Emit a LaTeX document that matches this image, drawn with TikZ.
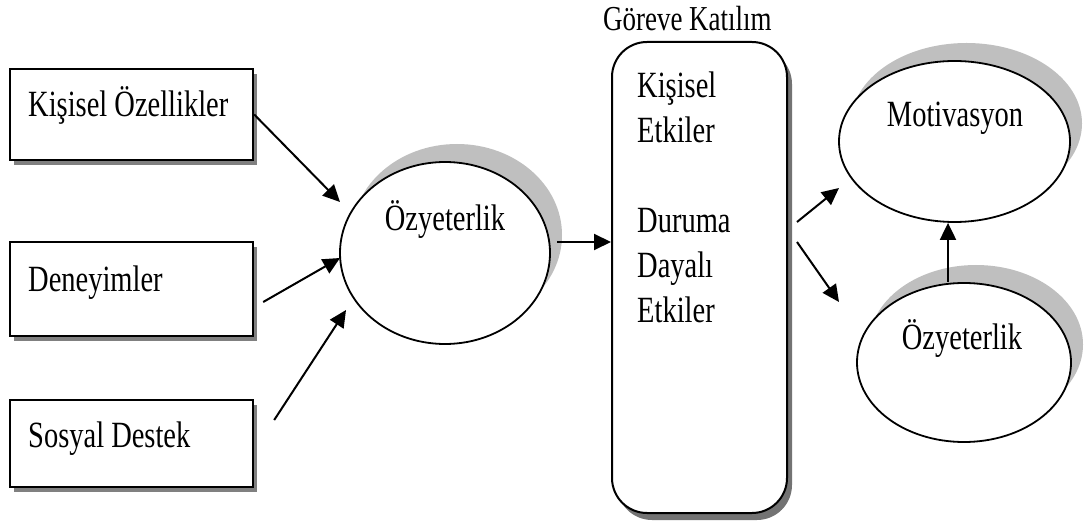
\documentclass[tikz,border=0pt]{standalone}
\usepackage{fontspec}
\setmainfont{Liberation Serif}[FakeStretch=0.77]
\usetikzlibrary{shapes.geometric,arrows.meta,calc,shadows}

\begin{document}
\begin{tikzpicture}[x=1pt,y=-1pt,
  box/.style={draw, line width=2.4pt, fill=white, minimum width=243pt,
    minimum height=91pt, inner sep=0pt,
    drop shadow={shadow xshift=4pt, shadow yshift=-5pt, fill=black!50, opacity=1}},
  oval/.style={ellipse, draw, line width=1.8pt, fill=white, inner sep=0pt,
    general shadow={shadow xshift=12pt, shadow yshift=18pt, fill=black!25, opacity=1}},
  panel/.style={draw, line width=2pt, rounded corners=35pt, fill=white,
    inner sep=0pt,
    drop shadow={shadow xshift=5pt, shadow yshift=-7pt, fill=black!55, opacity=1}},
  txt/.style={inner sep=0pt, font=\fontsize{37}{45}\selectfont},
  arr/.style={line width=2pt, -{Triangle[length=17pt,width=16pt]}}]

\useasboundingbox (0,0) rectangle (1087,526);

% source boxes
\node[box] (k) at (131.5,114.5) {};
\node[box, minimum height=94pt] (d) at (131.5,289) {};
\node[box, minimum height=87pt] (s) at (131.5,443.5) {};
\node[txt, anchor=base west] (kt) at (28,117) {Kişisel Özellikler};
\node[txt, anchor=base west] (dt) at (28,292) {Deneyimler};
\node[txt, anchor=base west] (st) at (28,447) {Sosyal Destek};

% self-efficacy
\node[oval, minimum width=210pt, minimum height=182pt] (e1) at (445,253) {};
\node[txt, anchor=base] (e1t) at (445,231) {Özyeterlik};

% task participation panel
\node[panel, minimum width=175pt, minimum height=471pt] (g) at (699.5,277.5) {};
\node[txt, anchor=base west, font=\fontsize{35}{40}\selectfont] (gt) at (603,31) {Göreve Katılım};
% multi-line node: base anchor sits on the last line
\node[txt, anchor=base west, align=left] (gc) at (637,323)
  {Kişisel\\Etkiler\\[45pt]Duruma\\Dayalı\\Etkiler};

% outcomes
\node[oval, minimum width=231pt, minimum height=161pt] (m) at (954.5,141.5) {};
\node[txt, anchor=base] (mt) at (955,127) {Motivasyon};
\node[oval, minimum width=214pt, minimum height=159pt] (o2) at (964,362.5) {};
\node[txt, anchor=base] (o2t) at (962,350) {Özyeterlik};

% connectors
\coordinate (t1) at (340,202);
\coordinate (t2) at (340,258);
\coordinate (t3) at (346,310);
\coordinate (a4) at (557,242);
\coordinate (t5) at (839,188);
\coordinate (t6) at (839,302);
\coordinate (a7) at (948,0);

\draw[arr] (k.east) -- (t1);
\draw[arr] ($(d.east)+(9,13)$) -- (t2);
\draw[arr] ($(s.east)+(20,-23.5)$) -- (t3);
\draw[arr] (a4) -- (a4 -| g.west);
\draw[arr] ($(g.east)+(9,-55.5)$) -- (t5);
\draw[arr] ($(g.east)+(9,-35.5)$) -- (t6);
\draw[arr] (o2.north -| a7) -- (m.south -| a7);
\end{tikzpicture}
\end{document}
